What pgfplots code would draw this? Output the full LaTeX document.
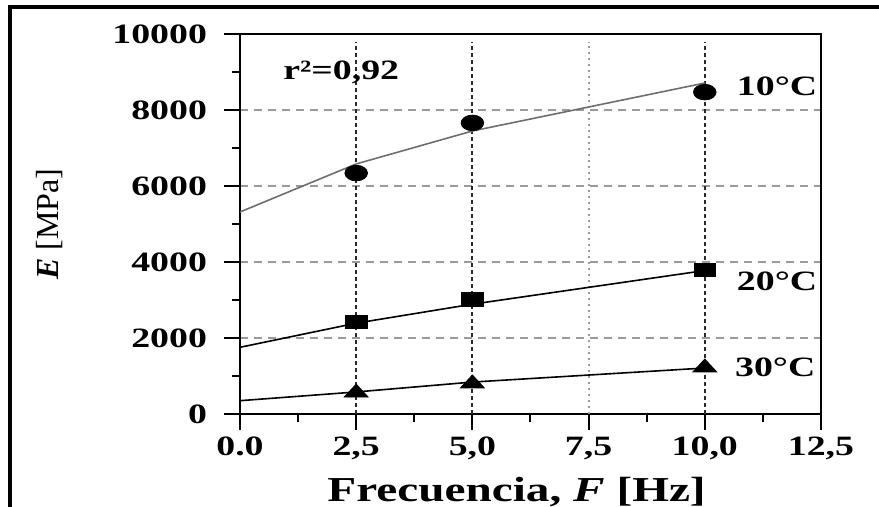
\documentclass[border=0pt]{standalone}
\usepackage{fontspec}
\setmainfont{Liberation Serif}[FakeStretch=1.35]
\newfontfamily\ylabfont{Liberation Serif}
\usepackage{pgfplots}
\pgfplotsset{compat=1.18}
\definecolor{gridgray}{HTML}{9A9A9A}
\definecolor{fitgray}{HTML}{6E6E6E}
\definecolor{vgrid}{HTML}{2A2A2A}

\begin{document}
\begin{tikzpicture}
\begin{axis}[
  scale only axis, width=290.5pt, height=190pt,
  xmin=0, xmax=12.5, ymin=0, ymax=10000,
  scaled y ticks=false,
  xtick={0,2.5,5,7.5,10,12.5},
  xticklabels={{0.0},{2,5},{5,0},{7,5},{10,0},{12,5}},
  ytick={0,2000,4000,6000,8000,10000},
  yticklabels={0,2000,4000,6000,8000,10000},
  minor x tick num=1, minor y tick num=1,
  tick pos=left, tick align=outside,
  major tick length=8pt, minor tick length=4pt,
  every tick/.style={black, line width=1pt},
  axis line style={line width=0.9pt},
  ticklabel style={font=\fontsize{14}{14}\selectfont\bfseries},
  yticklabel style={xshift=-5pt},
  ymajorgrids=true,
  y grid style={gridgray, dash pattern=on 4pt off 3pt, line width=0.7pt},
  xlabel={Frecuencia, \textit{F} [Hz]},
  xlabel style={font=\fontsize{17.5}{17.5}\selectfont\bfseries, at={(axis description cs:0.476,0)}, anchor=base, yshift=-44pt},
  ylabel={\textbf{\textit{E}} [MPa]},
  ylabel style={font=\ylabfont\fontsize{16}{16}\selectfont, at={(axis description cs:-0.327,0.5)}, anchor=center},
]
% vertical guide lines
\pgfplotsinvokeforeach{2.5,5,10}{
  \draw[vgrid, line width=1pt, dash pattern=on 2pt off 1.5pt] (axis cs:#1,0) -- (axis cs:#1,9800);
}
\draw[gridgray, line width=1pt, dash pattern=on 1pt off 2pt] (axis cs:7.5,0) -- (axis cs:7.5,9800);

% fitted curves
\addplot[fitgray, line width=0.8pt] coordinates {(0,5316) (2.5,6580) (5,7447) (10,8710)};
\addplot[black, line width=0.8pt] coordinates {(0,1755) (2.5,2390) (5,2890) (10,3775)};
\addplot[black, line width=0.8pt] coordinates {(0,350) (2.5,580) (5,840) (10,1210)};

% measured values
\addplot[only marks, mark=*, mark size=3.9pt, mark options={xscale=1.45, fill=black}] coordinates {(2.5,6340) (5,7660) (10,8470)};
\addplot[only marks, mark=square*, mark size=3.4pt, mark options={xscale=1.6, fill=black}] coordinates {(2.5,2420) (5,3020) (10,3790)};
\addplot[only marks, mark=triangle*, mark size=4.3pt, mark options={xscale=1.6, fill=black}] coordinates {(2.5,560) (5,800) (10,1220)};

\node[anchor=west, font=\fontsize{14}{14}\selectfont\bfseries] at (axis cs:10.54,8610) {10°C};
\node[anchor=west, font=\fontsize{14}{14}\selectfont\bfseries] at (axis cs:10.54,3500) {20°C};
\node[anchor=west, font=\fontsize{14}{14}\selectfont\bfseries] at (axis cs:10.5,1240) {30°C};
\node[anchor=west, font=\fontsize{14}{14}\selectfont\bfseries] at (axis cs:0.78,8980) {r²=0,92};
\end{axis}
\draw[line width=2pt] (-114.75pt,-60pt) -- (-114.75pt,203.5pt) -- (340pt,203.5pt);
\pgfresetboundingbox
\useasboundingbox (-120pt,-46.5pt) rectangle (319.5pt,207pt);
\end{tikzpicture}
\end{document}
